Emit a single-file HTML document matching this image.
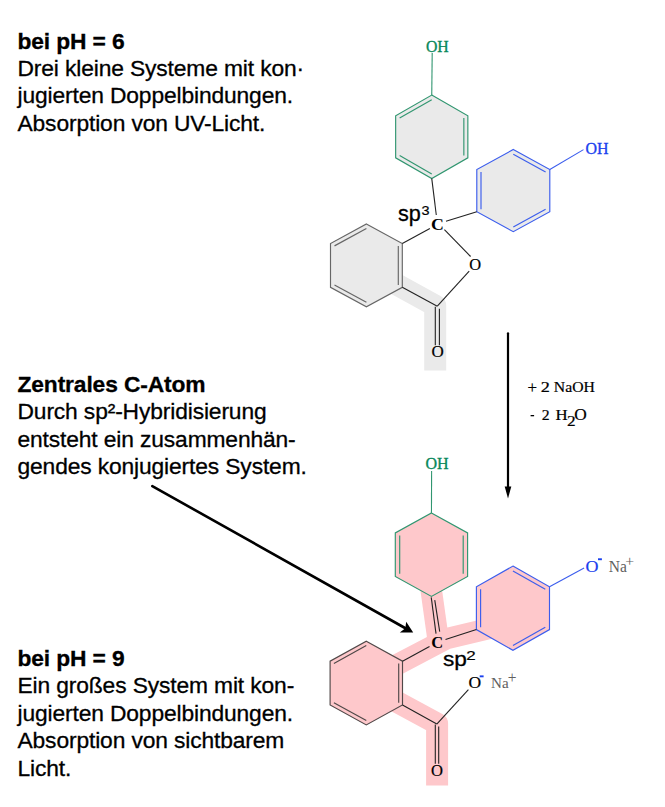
<!DOCTYPE html>
<html><head><meta charset="utf-8"><style>html,body{margin:0;padding:0;background:#fff}svg{display:block}</style></head>
<body><svg width="665" height="807" viewBox="0 0 665 807">
<rect width="665" height="807" fill="#fff"/>
<text x="17.5" y="48.6" font-family="Liberation Sans" font-size="22.8" fill="#000" font-weight="bold" text-anchor="start" stroke="#000" stroke-width="0.3" letter-spacing="-0.13">bei pH = 6</text><text x="17.5" y="76.0" font-family="Liberation Sans" font-size="22.8" fill="#000" font-weight="normal" text-anchor="start" stroke="#000" stroke-width="0.3" letter-spacing="-0.13">Drei kleine Systeme mit kon·</text><text x="17.5" y="103.4" font-family="Liberation Sans" font-size="22.8" fill="#000" font-weight="normal" text-anchor="start" stroke="#000" stroke-width="0.3" letter-spacing="-0.13">jugierten Doppelbindungen.</text><text x="17.5" y="130.8" font-family="Liberation Sans" font-size="22.8" fill="#000" font-weight="normal" text-anchor="start" stroke="#000" stroke-width="0.3" letter-spacing="-0.13">Absorption von UV-Licht.</text><text x="17.5" y="391.8" font-family="Liberation Sans" font-size="22.8" fill="#000" font-weight="bold" text-anchor="start" stroke="#000" stroke-width="0.3" letter-spacing="-0.13">Zentrales C-Atom</text><text x="17.5" y="419.2" font-family="Liberation Sans" font-size="22.8" fill="#000" font-weight="normal" text-anchor="start" stroke="#000" stroke-width="0.3" letter-spacing="-0.13">Durch sp²-Hybridisierung</text><text x="17.5" y="446.6" font-family="Liberation Sans" font-size="22.8" fill="#000" font-weight="normal" text-anchor="start" stroke="#000" stroke-width="0.3" letter-spacing="-0.13">entsteht ein zusammenhän-</text><text x="17.5" y="474.0" font-family="Liberation Sans" font-size="22.8" fill="#000" font-weight="normal" text-anchor="start" stroke="#000" stroke-width="0.3" letter-spacing="-0.13">gendes konjugiertes System.</text><text x="17.5" y="665.7" font-family="Liberation Sans" font-size="22.8" fill="#000" font-weight="bold" text-anchor="start" stroke="#000" stroke-width="0.3" letter-spacing="-0.13">bei pH = 9</text><text x="17.5" y="693.2" font-family="Liberation Sans" font-size="22.8" fill="#000" font-weight="normal" text-anchor="start" stroke="#000" stroke-width="0.3" letter-spacing="-0.13">Ein großes System mit kon-</text><text x="17.5" y="720.7" font-family="Liberation Sans" font-size="22.8" fill="#000" font-weight="normal" text-anchor="start" stroke="#000" stroke-width="0.3" letter-spacing="-0.13">jugierten Doppelbindungen.</text><text x="17.5" y="748.2" font-family="Liberation Sans" font-size="22.8" fill="#000" font-weight="normal" text-anchor="start" stroke="#000" stroke-width="0.3" letter-spacing="-0.13">Absorption von sichtbarem</text><text x="17.5" y="775.7" font-family="Liberation Sans" font-size="22.8" fill="#000" font-weight="normal" text-anchor="start" stroke="#000" stroke-width="0.3" letter-spacing="-0.13">Licht.</text><polyline points="389.30,280.30 435.20,305.60 435.20,370.60" fill="none" stroke="#eaeaea" stroke-width="22.0" stroke-linejoin="round" stroke-linecap="butt"/><polygon points="431.75,95.10 467.85,115.80 467.85,157.80 431.75,178.50 395.65,157.80 395.65,115.80" fill="#eaeaea" stroke="#319670" stroke-width="1.15" stroke-linejoin="miter"/><line x1="399.65" y1="118.12" x2="431.75" y2="99.71" stroke="#319670" stroke-width="1.15"/><line x1="463.85" y1="118.12" x2="463.85" y2="155.48" stroke="#319670" stroke-width="1.15"/><line x1="431.75" y1="173.89" x2="399.65" y2="155.48" stroke="#319670" stroke-width="1.15"/><polygon points="513.30,149.50 549.80,169.50 549.80,211.70 513.30,231.70 476.80,211.70 476.80,169.50" fill="#eaeaea" stroke="#3b5ded" stroke-width="1.15" stroke-linejoin="miter"/><line x1="513.30" y1="154.29" x2="545.60" y2="171.99" stroke="#3b5ded" stroke-width="1.15"/><line x1="545.60" y1="209.21" x2="513.30" y2="226.91" stroke="#3b5ded" stroke-width="1.15"/><line x1="481.00" y1="209.21" x2="481.00" y2="171.99" stroke="#3b5ded" stroke-width="1.15"/><polygon points="366.40,224.00 402.30,243.50 402.30,287.30 366.40,306.80 330.50,287.30 330.50,243.50" fill="#eaeaea" stroke="#666666" stroke-width="1.15" stroke-linejoin="miter"/><line x1="334.50" y1="245.88" x2="366.40" y2="228.55" stroke="#666666" stroke-width="1.15"/><line x1="398.30" y1="245.88" x2="398.30" y2="284.92" stroke="#666666" stroke-width="1.15"/><line x1="366.40" y1="302.25" x2="334.50" y2="284.92" stroke="#666666" stroke-width="1.15"/><line x1="432.20" y1="53.00" x2="431.75" y2="95.10" stroke="#319670" stroke-width="1.1"/><line x1="431.75" y1="178.50" x2="436.30" y2="215.00" stroke="#222222" stroke-width="1.1"/><line x1="446.00" y1="221.30" x2="476.80" y2="211.70" stroke="#222222" stroke-width="1.1"/><line x1="429.90" y1="228.60" x2="402.30" y2="243.50" stroke="#222222" stroke-width="1.1"/><line x1="444.40" y1="229.70" x2="470.60" y2="256.50" stroke="#222222" stroke-width="1.1"/><line x1="469.20" y1="271.20" x2="437.30" y2="306.20" stroke="#222222" stroke-width="1.1"/><line x1="402.30" y1="287.30" x2="437.30" y2="306.20" stroke="#222222" stroke-width="1.1"/><line x1="435.30" y1="306.70" x2="435.30" y2="345.30" stroke="#222222" stroke-width="1.1"/><line x1="439.40" y1="308.70" x2="439.40" y2="345.30" stroke="#222222" stroke-width="1.1"/><line x1="549.80" y1="169.50" x2="583.50" y2="149.60" stroke="#3b5ded" stroke-width="1.1"/><text transform="translate(425.97,51.67) scale(0.9450,1)" font-family="Liberation Serif" font-size="16.72" fill="#08885a" font-weight="normal" stroke="#08885a" stroke-width="0.35">OH</text><text transform="translate(585.56,153.96) scale(0.9452,1)" font-family="Liberation Serif" font-size="16.87" fill="#1a40ee" font-weight="normal" stroke="#1a40ee" stroke-width="0.35">OH</text><text transform="translate(431.11,230.13) scale(1.0235,1)" font-family="Liberation Serif" font-size="17.42" fill="#000" font-weight="bold">C</text><text transform="translate(469.14,270.07) scale(0.9814,1)" font-family="Liberation Serif" font-size="16.72" fill="#000" font-weight="normal" stroke="#000" stroke-width="0.2">O</text><text transform="translate(431.42,357.47) scale(1.0469,1)" font-family="Liberation Serif" font-size="16.27" fill="#000" font-weight="normal" stroke="#000" stroke-width="0.2">O</text><text transform="translate(397.95,220.66) scale(1.0015,1)" font-family="Liberation Sans" font-size="21.60" fill="#000" font-weight="normal" stroke="#000" stroke-width="0.3">sp</text><text transform="translate(421.42,214.56) scale(1.0590,1)" font-family="Liberation Sans" font-size="13.66" fill="#000" font-weight="normal" stroke="#000" stroke-width="0.2">3</text><polyline points="385.00,671.00 446.70,638.60 495.00,627.10" fill="none" stroke="#fec8cb" stroke-width="21.2" stroke-linejoin="round" stroke-linecap="butt"/><polyline points="430.50,585.00 438.40,641.50" fill="none" stroke="#fec8cb" stroke-width="21.5" stroke-linejoin="round" stroke-linecap="butt"/><polyline points="390.00,698.10 437.10,723.60 437.10,785.60" fill="none" stroke="#fec8cb" stroke-width="22.0" stroke-linejoin="round" stroke-linecap="butt"/><polygon points="431.45,512.90 467.60,532.90 467.60,576.40 431.45,596.40 395.30,576.40 395.30,532.90" fill="#fec8cb" stroke="#319670" stroke-width="1.15" stroke-linejoin="miter"/><line x1="399.70" y1="573.81" x2="399.70" y2="535.49" stroke="#319670" stroke-width="1.15"/><line x1="463.20" y1="535.49" x2="463.20" y2="573.81" stroke="#319670" stroke-width="1.15"/><polygon points="512.95,566.10 549.50,586.80 549.50,629.60 512.95,650.30 476.40,629.60 476.40,586.80" fill="#fec8cb" stroke="#3b5ded" stroke-width="1.15" stroke-linejoin="miter"/><line x1="512.95" y1="570.93" x2="545.30" y2="589.25" stroke="#3b5ded" stroke-width="1.15"/><line x1="545.30" y1="627.15" x2="512.95" y2="645.47" stroke="#3b5ded" stroke-width="1.15"/><line x1="480.60" y1="627.15" x2="480.60" y2="589.25" stroke="#3b5ded" stroke-width="1.15"/><polygon points="366.30,641.20 402.50,661.20 402.50,704.90 366.30,724.90 330.10,704.90 330.10,661.20" fill="#fec8cb" stroke="#504848" stroke-width="1.15" stroke-linejoin="miter"/><line x1="333.90" y1="663.44" x2="366.30" y2="645.54" stroke="#504848" stroke-width="1.15"/><line x1="398.70" y1="663.44" x2="398.70" y2="702.66" stroke="#504848" stroke-width="1.15"/><line x1="366.30" y1="720.56" x2="333.90" y2="702.66" stroke="#504848" stroke-width="1.15"/><line x1="431.60" y1="471.00" x2="431.45" y2="512.90" stroke="#319670" stroke-width="1.1"/><line x1="431.25" y1="597.40" x2="436.00" y2="633.60" stroke="#222222" stroke-width="1.1"/><line x1="434.75" y1="600.20" x2="439.70" y2="631.60" stroke="#222222" stroke-width="1.1"/><line x1="445.50" y1="639.40" x2="476.40" y2="629.60" stroke="#222222" stroke-width="1.1"/><line x1="429.50" y1="646.50" x2="402.50" y2="661.20" stroke="#222222" stroke-width="1.1"/><line x1="402.50" y1="704.90" x2="436.80" y2="724.10" stroke="#222222" stroke-width="1.1"/><line x1="436.80" y1="724.10" x2="468.40" y2="689.60" stroke="#222222" stroke-width="1.1"/><line x1="435.30" y1="724.60" x2="435.30" y2="763.80" stroke="#222222" stroke-width="1.1"/><line x1="438.70" y1="726.60" x2="438.70" y2="763.80" stroke="#222222" stroke-width="1.1"/><line x1="549.50" y1="586.80" x2="584.10" y2="568.00" stroke="#3b5ded" stroke-width="1.1"/><text transform="translate(425.41,469.26) scale(0.9433,1)" font-family="Liberation Serif" font-size="17.01" fill="#08885a" font-weight="normal" stroke="#08885a" stroke-width="0.35">OH</text><text transform="translate(431.18,647.64) scale(1.0083,1)" font-family="Liberation Serif" font-size="16.36" fill="#000" font-weight="bold">C</text><text transform="translate(431.04,775.67) scale(0.9997,1)" font-family="Liberation Serif" font-size="16.57" fill="#000" font-weight="normal" stroke="#000" stroke-width="0.2">O</text><text transform="translate(585.38,571.57) scale(1.0846,1)" font-family="Liberation Serif" font-size="16.57" fill="#1a40ee" font-weight="normal" stroke="#1a40ee" stroke-width="0.2">O</text><rect x="598.0" y="558.3" width="3.9" height="1.9" fill="#1a40ee"/><text transform="translate(608.73,571.73) scale(0.9237,1)" font-family="Liberation Serif" font-size="16.82" fill="#606060" font-weight="normal">Na</text><text transform="translate(625.21,565.99) scale(1.0900,1)" font-family="Liberation Serif" font-size="14.44" fill="#606060" font-weight="normal">+</text><text transform="translate(468.40,688.08) scale(1.0856,1)" font-family="Liberation Serif" font-size="16.12" fill="#000" font-weight="normal" stroke="#000" stroke-width="0.2">O</text><rect x="479.7" y="675.4" width="3.9" height="1.9" fill="#1a40ee"/><text transform="translate(491.05,687.95) scale(0.9860,1)" font-family="Liberation Serif" font-size="15.30" fill="#606060" font-weight="normal">Na</text><text transform="translate(507.82,682.58) scale(0.9574,1)" font-family="Liberation Serif" font-size="16.22" fill="#606060" font-weight="normal">+</text><text transform="translate(442.92,665.78) scale(1.0753,1)" font-family="Liberation Sans" font-size="21.07" fill="#000" font-weight="normal" stroke="#000" stroke-width="0.3">sp</text><text transform="translate(466.15,659.70) scale(1.3043,1)" font-family="Liberation Sans" font-size="13.00" fill="#000" font-weight="normal" stroke="#000" stroke-width="0.2">2</text><line x1="508" y1="333.3" x2="508" y2="488" stroke="#000" stroke-width="2.2" stroke-linecap="round"/><polygon points="504.7,486.5 511.3,486.5 508,498.6" fill="#000"/><text transform="translate(527.56,393.28) scale(1.0361,1)" font-family="Liberation Serif" font-size="16.22" fill="#000" font-weight="normal" stroke="#000" stroke-width="0.2">+</text><text transform="translate(540.67,392.10) scale(1.2487,1)" font-family="Liberation Serif" font-size="14.62" fill="#000" font-weight="normal" stroke="#000" stroke-width="0.2">2</text><text transform="translate(553.83,391.82) scale(1.1091,1)" font-family="Liberation Serif" font-size="14.18" fill="#000" font-weight="normal" stroke="#000" stroke-width="0.2">NaOH</text><rect x="530.6" y="415.0" width="3.5" height="1.3" fill="#000"/><text transform="translate(541.77,419.70) scale(1.0891,1)" font-family="Liberation Serif" font-size="14.46" fill="#000" font-weight="normal" stroke="#000" stroke-width="0.2">2</text><text transform="translate(555.50,419.70) scale(1.1630,1)" font-family="Liberation Serif" font-size="14.46" fill="#000" font-weight="normal" stroke="#000" stroke-width="0.2">H</text><text transform="translate(566.91,425.50) scale(1.1803,1)" font-family="Liberation Serif" font-size="14.62" fill="#000" font-weight="normal" stroke="#000" stroke-width="0.2">2</text><text transform="translate(574.31,419.98) scale(1.0963,1)" font-family="Liberation Serif" font-size="15.82" fill="#000" font-weight="normal" stroke="#000" stroke-width="0.2">O</text><line x1="152.3" y1="486.1" x2="405" y2="628" stroke="#000" stroke-width="2.6" stroke-linecap="round"/><polygon points="413.2,632.6 406.2,621.8 405.3,628.3 399.8,632.6" fill="#000"/>
</svg></body></html>
